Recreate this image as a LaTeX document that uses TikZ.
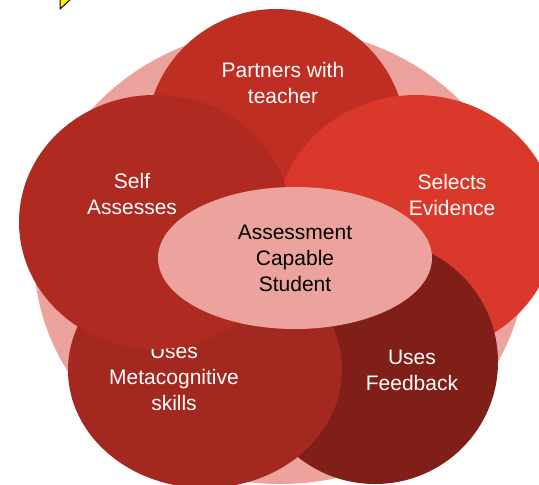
\documentclass[tikz,border=0pt]{standalone}
\usepackage{fontspec}
\setmainfont{Liberation Sans}
\usetikzlibrary{shapes.geometric}
\definecolor{ringback}{RGB}{237,163,157}
\definecolor{partnersred}{RGB}{190,46,34}
\definecolor{selectsred}{RGB}{217,56,42}
\definecolor{feedbackred}{RGB}{127,31,24}
\definecolor{metared}{RGB}{163,40,31}
\definecolor{selfred}{RGB}{175,42,32}

\begin{document}
\begin{tikzpicture}[x=1pt,y=-1pt,
  petal/.style={ellipse,inner sep=0pt,outer sep=0pt},
  petaltext/.style={text=white,align=center,font=\fontsize{21}{26}\selectfont}]
\useasboundingbox (0,0) rectangle (539,485);
\clip (0,0) rectangle (539,485);

% pale ring behind the petals
\node [petal,fill=ringback,minimum width=492pt,minimum height=456pt] (ring) at (280,256) {};

% petals, back to front, each with its label
\node [petal,fill=partnersred,minimum width=260pt,minimum height=260pt] (partners) at (276,139) {};
\node [petaltext] (partnerslabel) at (283,83) {Partners with\\teacher};
\node [petal,fill=selectsred,minimum width=280pt,minimum height=260pt] (selects) at (416,225) {};
\node [petaltext] (selectslabel) at (452,195) {Selects\\Evidence};
\node [petal,fill=feedbackred,minimum width=246pt,minimum height=244pt] (feedback) at (375,362) {};
\node [petaltext] (feedbacklabel) at (412,370) {Uses\\Feedback};
\node [petal,fill=metared,minimum width=274pt,minimum height=236pt] (meta) at (205,370) {};
\node [petaltext] (metalabel) at (174,377) {Uses\\Metacognitive\\skills};
\node [petal,fill=selfred,minimum width=272pt,minimum height=254pt] (self) at (155,222) {};
\node [petaltext] (selflabel) at (132,194) {Self\\Assesses};

% centre
\node [petal,fill=ringback,minimum width=274pt,minimum height=142pt,
  align=center,font=\fontsize{21}{26}\selectfont] (student) at (295,258)
{Assessment\\Capable\\Student};

% corner of a yellow shape at the top
\draw [fill=yellow,line width=1pt] (60,-2) -- (60,9) -- (72,-2);
\end{tikzpicture}
\end{document}
